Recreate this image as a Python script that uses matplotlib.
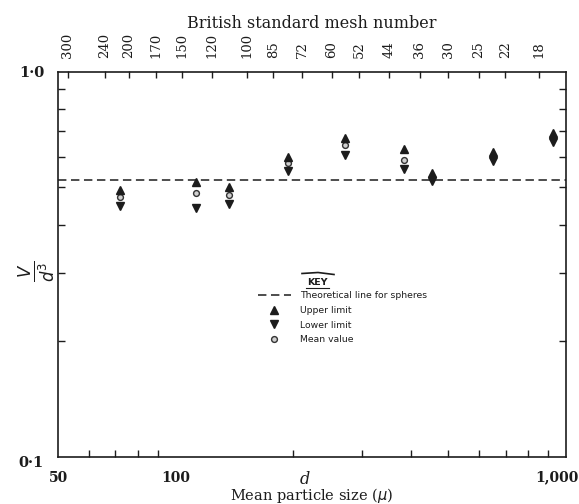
import numpy as np
import matplotlib
matplotlib.use("Agg")
import matplotlib.pyplot as plt
from matplotlib.lines import Line2D
from matplotlib.transforms import ScaledTranslation
from matplotlib.ticker import FixedLocator, NullFormatter, NullLocator

# ---------------- data ----------------
mesh_numbers = [300, 240, 200, 170, 150, 120, 100, 85, 72, 60, 52, 44, 36, 30, 25, 22, 18]
mesh_apertures = [53, 66, 76, 89, 104, 124, 152, 178, 211, 251, 295, 353, 422, 500, 599, 699, 853]

particle_size = [72, 113, 137, 194, 271, 384, 455, 650, 927]
upper_limit = [0.492, 0.516, 0.502, 0.599, 0.673, 0.628, 0.546, 0.617, 0.693]
mean_value = [0.473, 0.483, 0.478, 0.578, 0.644, 0.589, 0.533, 0.603, 0.677]
lower_limit = [0.447, 0.443, 0.453, 0.553, 0.606, 0.559, 0.520, 0.586, 0.657]
sphere_value = np.pi / 6

x_minor = [60, 70, 80, 90, 100, 200, 300, 400, 500, 600, 700, 800, 900]
x_labels = {50: "50", 100: "100", 1000: "1,000"}
y_minor = [0.2, 0.3, 0.4, 0.5, 0.6, 0.7, 0.8, 0.9]
y_labels = {0.1: "0·1", 1.0: "1·0"}

legend_labels = ["Theoretical line for spheres", "Upper limit", "Lower limit", "Mean value"]

# ---------------- figure ----------------
ink = "#1c1c1c"
W, H = 579, 504
fig = plt.figure(figsize=(W / 100, H / 100), dpi=100)
ax = fig.add_axes([58 / W, 1 - 456.7 / H, 508 / W, (456.7 - 71.5) / H])
ax.set_xscale("log")
ax.set_yscale("log")
ax.set_xlim(50, 1000)
ax.set_ylim(0.1, 1.0)

for s in ax.spines.values():
    s.set_linewidth(1.2)
    s.set_color(ink)

serif = ["DejaVu Serif"]

# x ticks
ax.xaxis.set_major_locator(FixedLocator(list(x_labels.keys())))
ax.set_xticklabels(list(x_labels.values()), fontfamily=serif, fontsize=10,
                   fontweight="bold", color=ink)
ax.xaxis.set_minor_locator(FixedLocator(x_minor))
ax.xaxis.set_minor_formatter(NullFormatter())
ax.tick_params(axis="x", which="major", length=0, pad=10)
ax.tick_params(axis="x", which="minor", direction="in", length=5, width=1,
               color=ink, top=False, bottom=True)
# shift the "1,000" label left so it stays inside the figure
last_lbl = ax.get_xticklabels()[-1]
last_lbl.set_transform(last_lbl.get_transform() +
                       ScaledTranslation(-9 / 100, 0, fig.dpi_scale_trans))

# y ticks
ax.yaxis.set_major_locator(FixedLocator(list(y_labels.keys())))
ax.set_yticklabels(list(y_labels.values()), fontfamily=serif, fontsize=10.5,
                   fontweight="bold", color=ink)
ax.yaxis.set_minor_locator(FixedLocator(y_minor))
ax.yaxis.set_minor_formatter(NullFormatter())
ax.tick_params(axis="y", which="major", length=0, pad=10)
ax.tick_params(axis="y", which="minor", direction="in", length=5, width=1,
               color=ink, left=True, right=True)
bot_lbl = ax.get_yticklabels()[0]
bot_lbl.set_transform(bot_lbl.get_transform() +
                      ScaledTranslation(0, -5 / 100, fig.dpi_scale_trans))

# top mesh axis
top = ax.secondary_xaxis("top")
top.set_xscale("log")
top.xaxis.set_major_locator(FixedLocator(mesh_apertures))
top.xaxis.set_minor_locator(NullLocator())
top.set_xticklabels([str(m) for m in mesh_numbers], rotation=90,
                    fontfamily=serif, fontsize=9.5, color=ink)
top.tick_params(axis="x", which="major", direction="in", length=5, width=1,
                color=ink, pad=10)
top.spines["top"].set_visible(False)
top.set_xlabel("British standard mesh number", fontfamily=serif, fontsize=11.5,
               color=ink, labelpad=3)

# data
theo, = ax.plot([50, 1000], [sphere_value, sphere_value], color=ink, lw=1.1,
                dashes=(5.5, 3))
mean_pts, = ax.plot(particle_size, mean_value, ls="none", marker="o", ms=4.2,
                    mfc="#d0d0d0", mec="#333333", mew=1.0, zorder=3)
up_pts, = ax.plot(particle_size, upper_limit, ls="none", marker="^", ms=5.2,
                  color=ink, zorder=4)
low_pts, = ax.plot(particle_size, lower_limit, ls="none", marker="v", ms=5.2,
                   color=ink, zorder=4)

# axis labels
ax.set_xlabel("Mean particle size ($\\mu$)", fontfamily=serif, fontsize=10.5,
              color=ink, labelpad=1)
fig.text(305 / W, 1 - 479 / H, "d", fontfamily=serif, fontstyle="italic",
         fontsize=11.5, ha="center", va="center", color=ink)
fig.text(37 / W, 1 - 271 / H, r"$\frac{V}{d^3}$", rotation=90, fontsize=17,
         ha="center", va="center", color=ink)

# key
leg = ax.legend([theo, up_pts, low_pts, mean_pts], legend_labels,
                loc="upper left", bbox_to_anchor=(258 / W, 1 - 291.5 / H),
                bbox_transform=fig.transFigure, frameon=False,
                prop={"family": "DejaVu Sans", "size": 6.7},
                handlelength=3.5, handletextpad=1.0, labelspacing=0.6,
                borderpad=0, borderaxespad=0)
for t in leg.get_texts():
    t.set_color(ink)
fig.text(317 / W, 1 - 282.5 / H, "KEY", fontsize=6.8, fontfamily="DejaVu Sans",
         fontweight="bold", ha="center", va="center", color=ink)
fig.lines.append(Line2D([306 / W, 329 / W], [1 - 288 / H, 1 - 288 / H],
                        transform=fig.transFigure, color=ink, lw=0.8))
fig.lines.append(Line2D([302 / W, 318 / W, 334 / W],
                        [1 - 273.5 / H, 1 - 272.5 / H, 1 - 274.5 / H],
                        transform=fig.transFigure, color=ink, lw=1.2))

fig.savefig("out.png", dpi=100)
